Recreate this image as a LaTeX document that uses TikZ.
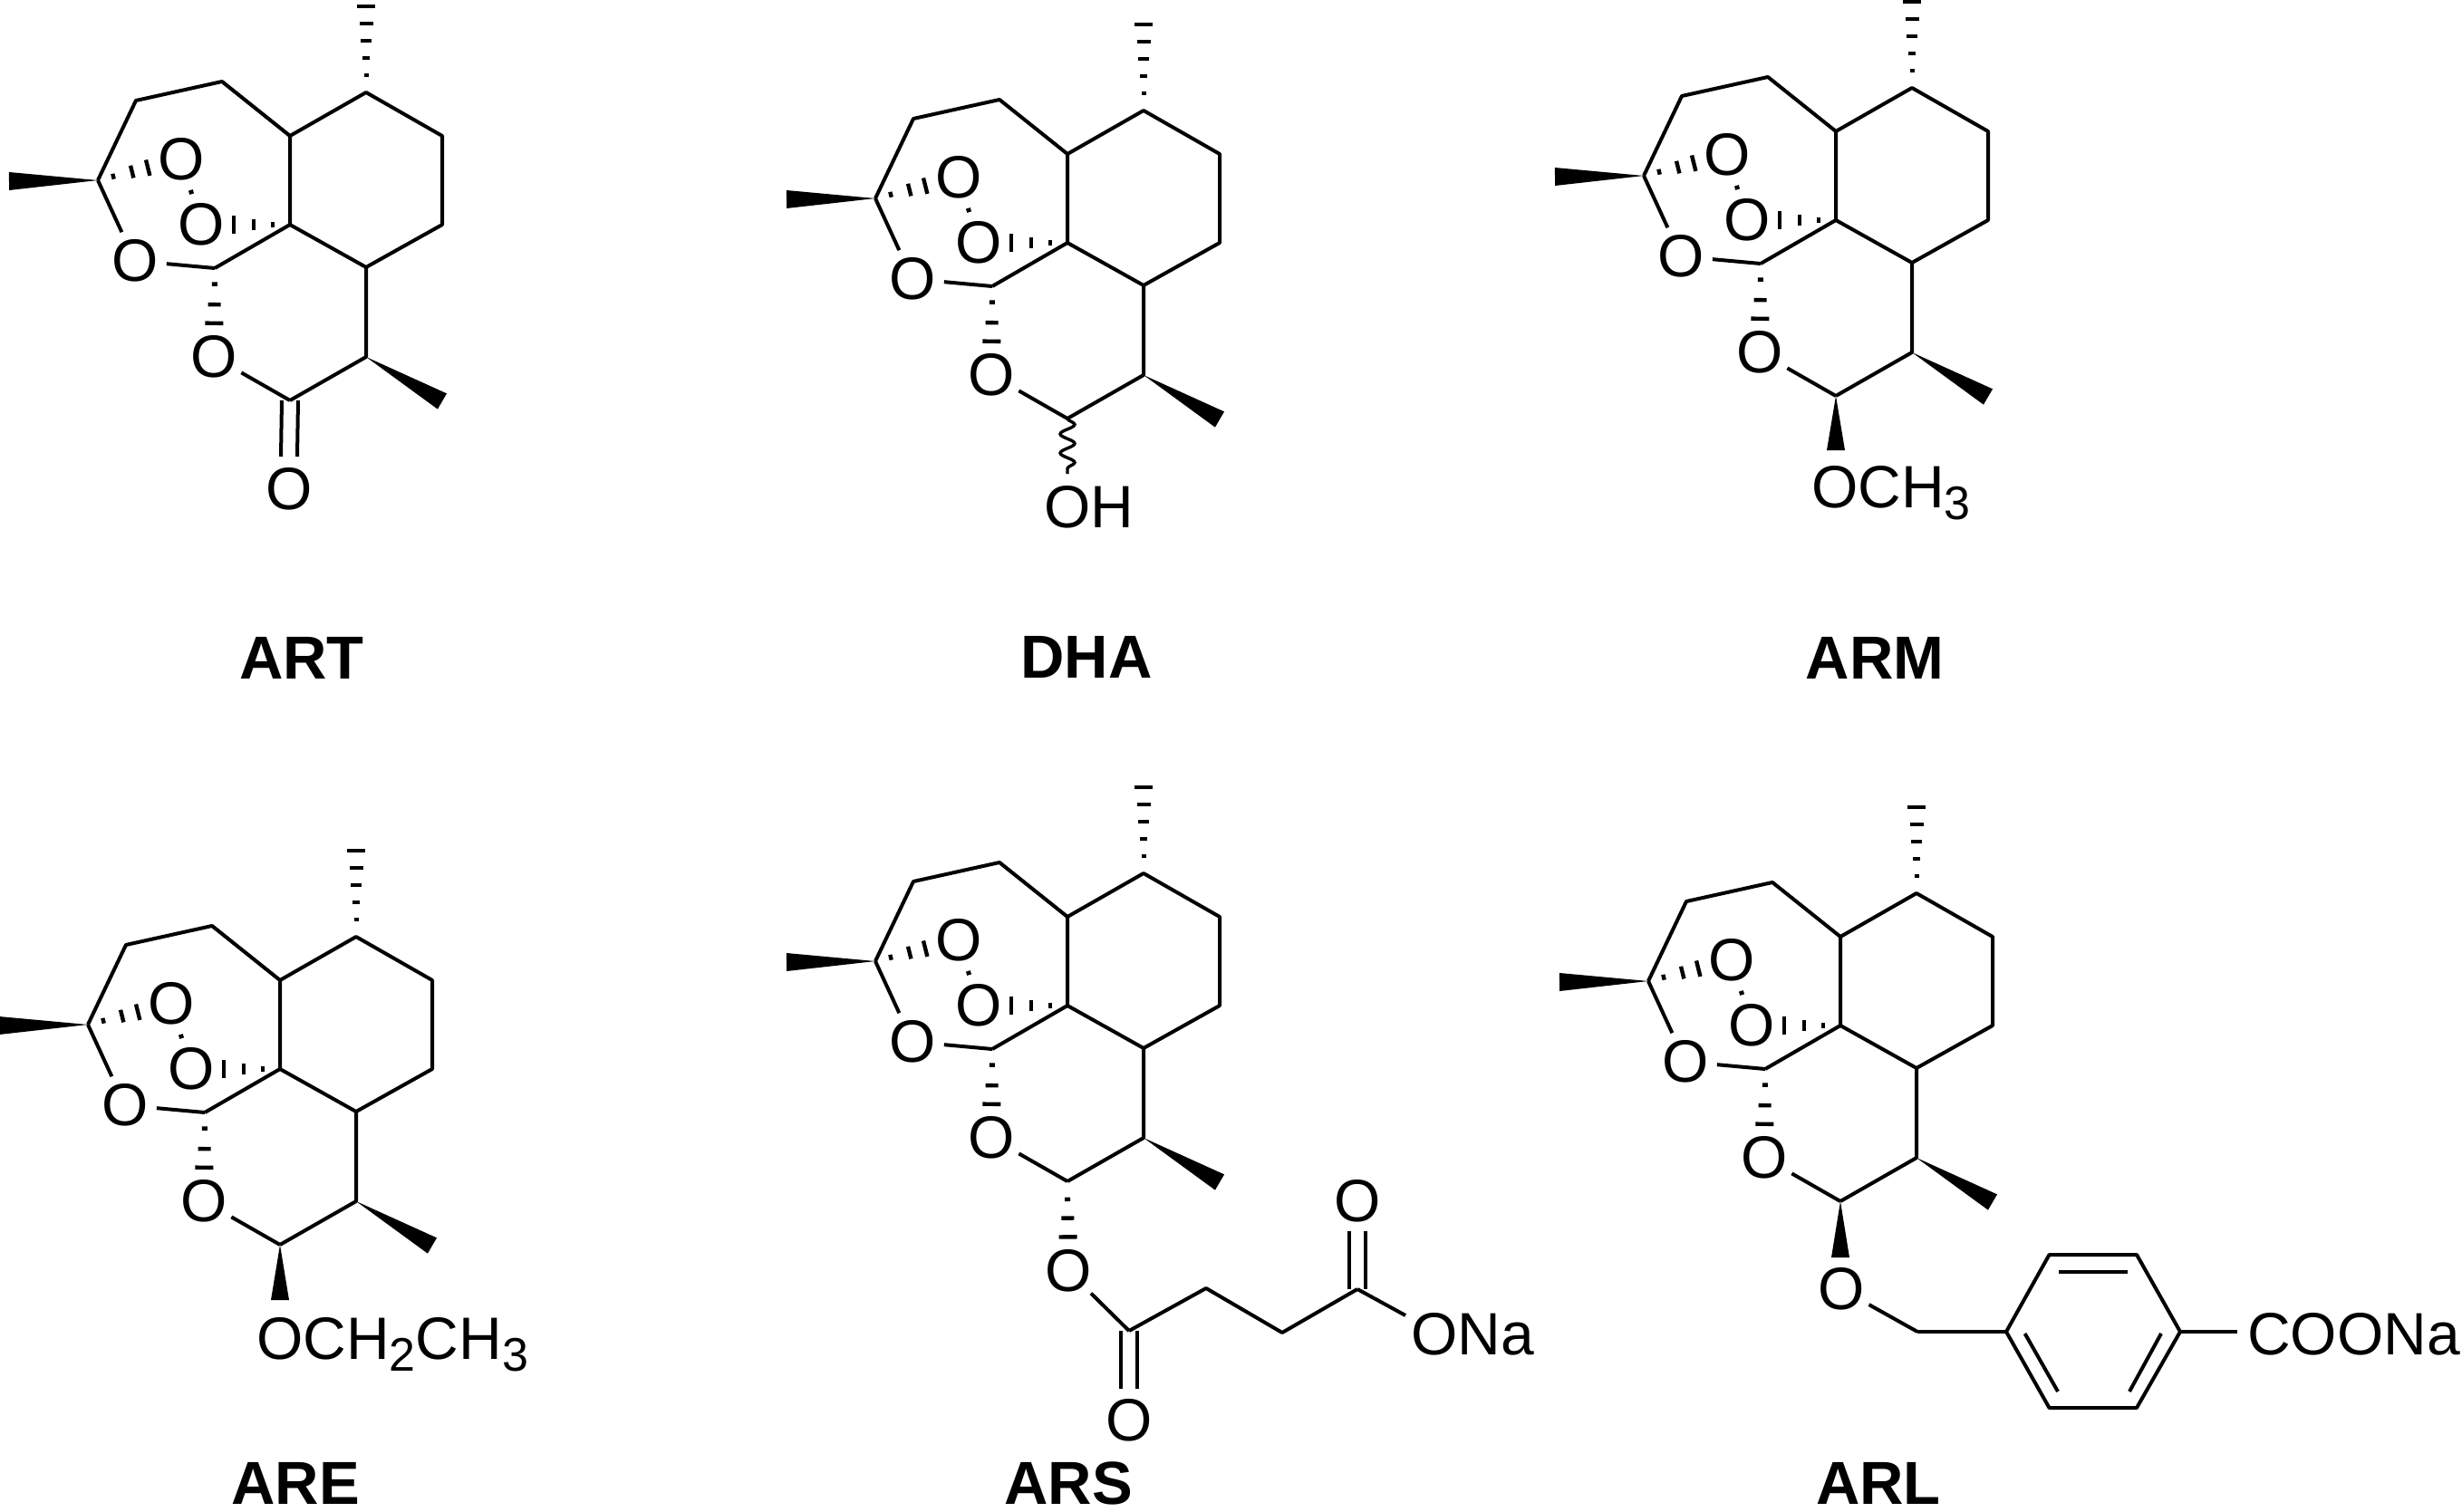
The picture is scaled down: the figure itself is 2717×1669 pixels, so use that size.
\documentclass[tikz,border=0pt]{standalone}
\usepackage{fontspec}
\setmainfont{Liberation Sans}
\usetikzlibrary{calc,decorations.pathmorphing}
\newcommand\subdigit[1]{\raisebox{-0.2em}{\fontsize{52}{52}\selectfont #1}}
\tikzset{
  bond/.style={line width=4pt,line join=round},
  tohet/.style={bond,shorten >=35pt},
  atom/.style={font=\fontsize{66}{70}\selectfont,inner sep=0pt},
  atomtext/.style={atom,anchor=base west},
  namelabel/.style={font=\fontsize{67}{70}\selectfont\bfseries,inner sep=0pt},
  hashmark/.style={line width=4.4pt}
}
% solid wedge from narrow end #1 to wide end #2, half width #3
\newcommand\wedgebond[3]{\fill ($(#2)!#3pt!90:(#1)$) -- (#1) -- ($(#2)!#3pt!-90:(#1)$) -- cycle;}
% hashed bond from #1 to #2, list of fraction/half width in #3
\newcommand\hashbond[3]{\foreach \t/\w in {#3}{\draw[hashmark] ($(#1)!\t!(#2)!\w pt!90:(#1)$) -- ($(#1)!\t!(#2)!\w pt!-90:(#1)$);}}
\newcommand\core[3]{%
\begin{scope}[shift={(#2,#3)}]
  \coordinate (#1top) at (404,102);
  \coordinate (#1tip) at (404,7);
  \coordinate (#1ra) at (488,150);
  \coordinate (#1rb) at (488,248);
  \coordinate (#1j) at (404,295);
  \coordinate (#1q) at (320,248);
  \coordinate (#1jt) at (320,150);
  \coordinate (#1sa) at (245,90);
  \coordinate (#1sb) at (150,111);
  \coordinate (#1cm) at (108,199);
  \coordinate (#1mt) at (10,200);
  \coordinate (#1ca) at (237,296);
  \coordinate (#1cl) at (320,442);
  \coordinate (#1me) at (404,394);
  \coordinate (#1we) at (488,443);
  \node[atom] (#1oa) at (200,176) {O};
  \node[atom] (#1ob) at (222,248) {O};
  \node[atom] (#1oc) at (149,288) {O};
  \node[atom] (#1od) at (236,394) {O};
  \draw[bond] (#1cm) -- (#1sb) -- (#1sa) -- (#1jt) -- (#1top) -- (#1ra) -- (#1rb) -- (#1j) -- (#1q) -- (#1jt);
  \draw[bond] (#1q) -- (#1ca);
  \draw[bond] (#1j) -- (#1me) -- (#1cl);
  \draw[tohet] (#1cm) -- (#1oc.center);
  \draw[tohet] (#1ca) -- (#1oc.center);
  \draw[tohet] (#1cl) -- (#1od.center);
  \wedgebond{#1cm}{#1mt}{10}
  \wedgebond{#1me}{#1we}{10}
  \hashbond{#1top}{#1tip}{0.2/2.5,0.4/4,0.6/6,0.8/7.5,1/9.7}
  \hashbond{#1cm}{#1oa.center}{0.185/3,0.41/7,0.6/9}
  \hashbond{#1oa.center}{#1ob.center}{0.5/2.5}
  \hashbond{#1q}{#1ob.center}{0.194/3,0.41/6,0.63/9.6}
  \hashbond{#1ca}{#1od.center}{0.18/3,0.41/7,0.62/10}
\end{scope}}
\begin{document}
\begin{tikzpicture}[x=1pt,y=-1pt]
\fill[white] (0,0) rectangle (2717,1669);
\useasboundingbox (0,0) rectangle (2717,1669);

% ART
\core{art}{0}{0}
\node[atom] (artoc) at (319,540) {O};
\draw[bond] ($(artcl)+(-9,0)$) -- ($(artoc.center)+(-9,-36)$);
\draw[bond] ($(artcl)+(9,0)$) -- ($(artoc.center)+(9,-36)$);
\node[namelabel] (artname) at (333,726) {ART};

% DHA
\core{dha}{858}{20}
\node[atomtext] (dhaoh) at (1152,582) {OH};
\coordinate (dhaw) at (1178,523);
\draw[line width=3.4pt,decorate,decoration={snake,amplitude=8pt,segment length=21pt}] (dhacl) -- (dhaw);
\node[namelabel] (dhaname) at (1199,725) {DHA};

% ARM
\core{arm}{1706}{-5}
\node[atomtext] (armo) at (1999,560) {OCH\subdigit{3}};
\coordinate (armw) at (2026,497);
\wedgebond{armcl}{armw}{10}
\node[namelabel] (armname) at (2069,726) {ARM};

% ARE
\core{are}{-11}{932}
\node[atomtext] (areo) at (283,1500) {OCH\subdigit{2}CH\subdigit{3}};
\coordinate (arew) at (309,1435);
\wedgebond{arecl}{arew}{10}
\node[namelabel] (arename) at (326,1637) {ARE};

% ARS
\core{ars}{858}{862}
\node[atom] (arsox) at (1179,1403) {O};
\hashbond{arscl}{arsox.center}{0.2/3,0.41/7,0.62/10}
\coordinate (arsa) at (1246,1469);
\coordinate (arsb) at (1331,1422);
\coordinate (arsc) at (1415,1471);
\coordinate (arsd) at (1498,1423);
\draw[tohet] (arsa) -- (arsox.center);
\draw[bond] (arsa) -- (arsb) -- (arsc) -- (arsd);
\node[atom] (arsou) at (1498,1326) {O};
\node[atom] (arsob) at (1246,1568) {O};
\node[atomtext] (arsna) at (1557,1495) {ONa};
\coordinate (arsn) at (1551,1452);
\draw[bond] (arsd) -- (arsn);
\draw[bond] ($(arsd)+(-9,0)$) -- ($(arsou.center)+(-9,33)$);
\draw[bond] ($(arsd)+(9,0)$) -- ($(arsou.center)+(9,33)$);
\draw[bond] ($(arsa)+(-9,0)$) -- ($(arsob.center)+(-9,-35)$);
\draw[bond] ($(arsa)+(9,0)$) -- ($(arsob.center)+(9,-35)$);
\node[namelabel] (arsname) at (1179,1637) {ARS};

% ARL
\core{arl}{1711}{884}
\node[atom] (arlox) at (2032,1423) {O};
\coordinate (arlw) at (2031,1388);
\wedgebond{arlcl}{arlw}{10}
\coordinate (arlch) at (2116,1470);
\coordinate (arla) at (2214,1470);
\coordinate (arlb) at (2261.5,1385);
\coordinate (arlc) at (2358,1385);
\coordinate (arld) at (2406,1470);
\coordinate (arle) at (2358,1554);
\coordinate (arlf) at (2261.5,1554);
\draw[tohet] (arlch) -- (arlox.center);
\draw[bond] (arlch) -- (arla);
\draw[bond] (arla) -- (arlb) -- (arlc) -- (arld) -- (arle) -- (arlf) -- cycle;
\coordinate (arlia) at (2272,1404);
\coordinate (arlib) at (2347.5,1404);
\coordinate (arlic) at (2234.6,1472);
\coordinate (arlid) at (2271,1536);
\coordinate (arlie) at (2385,1472);
\coordinate (arlif) at (2350,1536);
\draw[bond] (arlia) -- (arlib);
\draw[bond] (arlic) -- (arlid);
\draw[bond] (arlie) -- (arlif);
\node[atomtext] (arlna) at (2480,1495) {COONa};
\coordinate (arlbe) at (2469,1470);
\draw[bond] (arld) -- (arlbe);
\node[namelabel] (arlname) at (2073,1637) {ARL};
\end{tikzpicture}
\end{document}
